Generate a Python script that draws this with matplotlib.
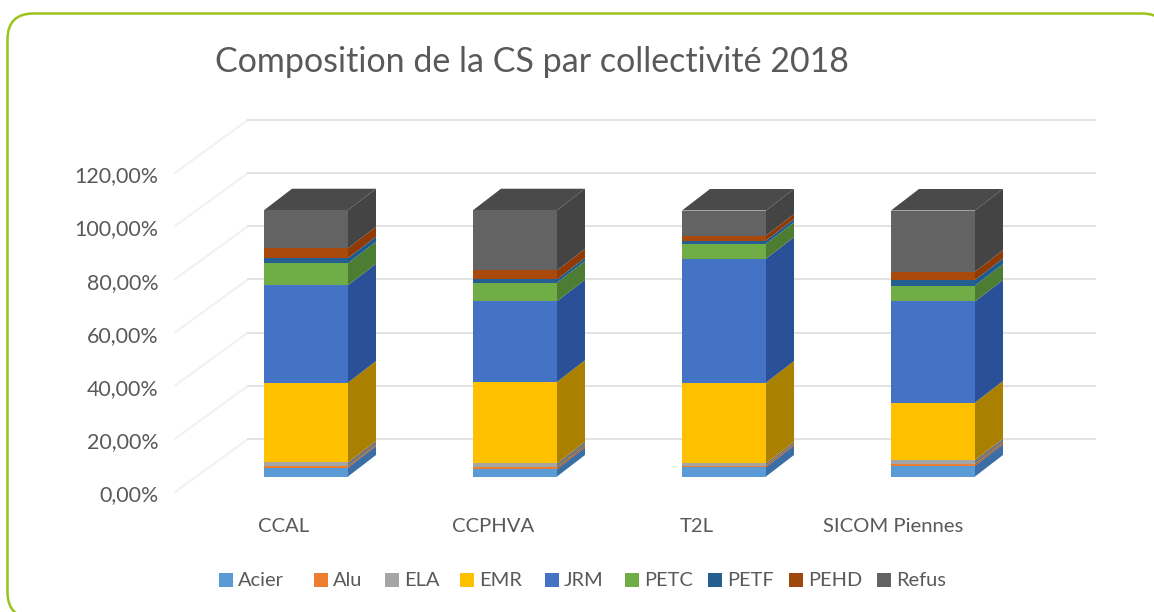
import matplotlib
matplotlib.use("Agg")
import matplotlib.pyplot as plt
from matplotlib.patches import Polygon, FancyBboxPatch
from matplotlib.transforms import ScaledTranslation, IdentityTransform
import numpy as np

plt.rcParams['font.family'] = ['Lato', 'DejaVu Sans']

categories = ["CCAL", "CCPHVA", "T2L", "SICOM Piennes"]
title = "Composition de la CS par collectivité 2018"
series_names = ["Acier", "Alu", "ELA", "EMR", "JRM", "PETC", "PETF", "PEHD", "Refus"]
acier = [3.3, 2.8, 3.5, 4.0]
alu = [0.5, 0.7, 0.6, 0.7]
ela = [1.5, 1.5, 0.9, 1.5]
emr = [30.0, 30.6, 30.3, 21.6]
jrm = [36.6, 30.3, 46.6, 38.0]
petc = [8.3, 7.0, 5.6, 6.0]
petf = [1.9, 1.2, 1.2, 2.1]
pehd = [3.7, 3.4, 1.9, 3.1]
refus = [14.3, 22.6, 9.4, 23.0]
series = [acier, alu, ela, emr, jrm, petc, petf, pehd, refus]
y_ticks = [0, 20, 40, 60, 80, 100, 120]
y_tick_labels = ["0,00%", "20,00%", "40,00%", "60,00%", "80,00%", "100,00%", "120,00%"]

front_colors = ["#5B9BD5", "#ED7D31", "#A5A5A5", "#FFC000", "#4472C4",
                "#70AD47", "#255E91", "#A9490C", "#636363"]
side_colors = ["#3A6EA5", "#A85820", "#757575", "#A98000", "#2A5197",
               "#4D7D33", "#1C5A8F", "#903A05", "#444444"]
legend_colors = ["#5B9BD5", "#ED7D31", "#A5A5A5", "#FFC000", "#4472C4",
                 "#70AD47", "#255E91", "#9E480E", "#636363"]
legend_left_px = [219, 314, 385, 460, 545, 625, 708, 789, 877]
TEXT = "#595959"
W, H = 1154, 612
PX_PER_PCT = 2.66
LEFT, RIGHT, FLOOR, TOP = 175, 1095, 492, 112
CAT_STEP = 209
CAT0 = 306

fig = plt.figure(figsize=(W / 100, H / 100), dpi=100, facecolor="white")
ax = fig.add_axes([LEFT / W, (H - FLOOR) / H, (RIGHT - LEFT) / W, (FLOOR - TOP) / H])
ax.set_xlim((LEFT - CAT0) / CAT_STEP, (RIGHT - CAT0) / CAT_STEP)
ax.set_ylim(0, (FLOOR - TOP) / PX_PER_PCT)
ax.patch.set_alpha(0)
for s in ax.spines.values():
    s.set_visible(False)

x_per_px = 1 / CAT_STEP
y_per_px = 1 / PX_PER_PCT

# Walls and gridlines (depth of the chart box: 73 px across, 53 px up)
wall_dx, wall_dy = 73 * x_per_px, 53 * y_per_px
x_left, x_right = ax.get_xlim()
for v in y_ticks:
    ax.plot([x_left, x_left + wall_dx], [v, v + wall_dy], color="#f1f1f1", lw=1.5, zorder=1, clip_on=False)
    ax.plot([x_left + wall_dx, x_right], [v + wall_dy, v + wall_dy], color="#e3e3e3", lw=1.4, zorder=1, clip_on=False)

# Bars
bar_w = 84 * x_per_px
base_shift = 15.5 * y_per_px
dep_x, dep_y = 28 * x_per_px, 21.5 * y_per_px
xs = np.arange(len(categories))
bottom = np.full(len(categories), base_shift)
for name, vals, col, side in zip(series_names, series, front_colors, side_colors):
    vals = np.asarray(vals, float)
    ax.bar(xs, vals, bar_w, bottom=bottom, color=col, zorder=3, lw=0)
    for x, b, v in zip(xs, bottom, vals):
        xr = x + bar_w / 2
        ax.add_patch(Polygon([(xr, b), (xr + dep_x, b + dep_y), (xr + dep_x, b + v + dep_y), (xr, b + v)],
                             closed=True, fc=side, ec="none", zorder=2.5))
    bottom = bottom + vals
top_col = "#4A4A4A"
for x, t in zip(xs, bottom):
    xl, xr = x - bar_w / 2, x + bar_w / 2
    ax.add_patch(Polygon([(xl, t), (xl + dep_x, t + dep_y), (xr + dep_x, t + dep_y), (xr, t)],
                         closed=True, fc=top_col, ec="none", zorder=2.5))

# Ticks
ax.set_yticks(y_ticks)
ax.set_yticklabels(y_tick_labels)
ax.tick_params(axis="y", length=0, pad=12, labelsize=15.4, labelcolor=TEXT)
for lab in ax.get_yticklabels():
    lab.set_transform(lab.get_transform() + ScaledTranslation(0, -1.5 / 100, fig.dpi_scale_trans))
ax.set_xticks(xs)
ax.set_xticklabels(categories)
ax.tick_params(axis="x", length=0, pad=18.5, labelsize=14.6, labelcolor=TEXT)
label_shift_px = [-22, -22, -27, -40]
for lab, dx in zip(ax.get_xticklabels(), label_shift_px):
    lab.set_transform(lab.get_transform() + ScaledTranslation(dx / 100, 0, fig.dpi_scale_trans))

fig.text(532 / W, 1 - 61.5 / H, title, ha="center", va="center", fontsize=24.5, color=TEXT)

# Legend entries at their own positions
for name, col, px in zip(series_names, legend_colors, legend_left_px):
    handle = plt.Rectangle((0, 0), 1, 1, fc=col, ec="none", label=name)
    fig.legend(handles=[handle], loc="center left", bbox_to_anchor=(px / W, 1 - 581 / H),
               frameon=False, fontsize=14.4, labelcolor=TEXT, handlelength=0.7,
               handleheight=0.7, handletextpad=0.26, borderpad=0, borderaxespad=0)

# Rounded green frame running off the picture at the right and the bottom.
# A white fill keeps the renderer from clipping the curve's control points.
fig.add_artist(FancyBboxPatch((7.5, H - 618), 1160.5, 604.5,
                              boxstyle="round,pad=0,rounding_size=26",
                              fc="white", ec="#9BC31C", lw=1.8, zorder=-1,
                              transform=IdentityTransform()))

fig.savefig("out.png", dpi=100)
